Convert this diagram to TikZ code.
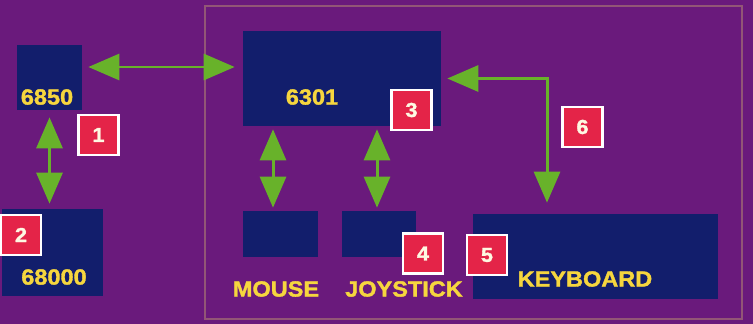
\documentclass[tikz,border=0pt]{standalone}
\usepackage{fontspec}
\setmainfont{Liberation Sans}[BoldFeatures={FakeBold=1.6,FakeStretch=1.07}]
\usetikzlibrary{arrows.meta}
\definecolor{bgpurple}{RGB}{106,26,124}
\definecolor{chipblue}{RGB}{18,30,108}
\definecolor{linkgreen}{RGB}{104,178,42}
\definecolor{tagyellow}{RGB}{246,214,62}
\definecolor{badgered}{RGB}{228,36,72}
\definecolor{framecol}{RGB}{146,86,118}
\begin{document}
\begin{tikzpicture}[x=0.02cm, y=-0.02cm,
		chip/.style={fill=chipblue, inner sep=0pt},
		tag/.style={text=tagyellow, font=\fontsize{12.5}{14}\selectfont\bfseries, inner sep=0pt},
		badge/.style={draw=white, line width=1.3pt, fill=badgered, text=white!85!tagyellow, minimum size=0.8cm, inner sep=0pt, font=\fontsize{11.5}{14}\selectfont\bfseries},
		link/.style={draw=linkgreen, line width=1.7pt, {Triangle[width=0.52cm,length=0.62cm]}-{Triangle[width=0.52cm,length=0.62cm]}}]
		\fill[bgpurple] (0,0) rectangle (753,324);
		\useasboundingbox (0,0) rectangle (753,324);
		\draw[framecol, line width=0.6pt] (205,6) rectangle (742,319);

		\node[chip, minimum width=1.3cm, minimum height=1.3cm] (n6850) at (49.5,77.5) {};
		\node[chip, minimum width=2.02cm, minimum height=1.74cm] (n68000) at (52.5,252.5) {};
		\node[chip, minimum width=3.96cm, minimum height=1.9cm] (n6301) at (342,78.5) {};
		\node[chip, minimum width=1.5cm, minimum height=0.92cm] (nmouse) at (280.5,234) {};
		\node[chip, minimum width=1.48cm, minimum height=0.92cm] (nstick) at (379,234) {};
		\node[chip, minimum width=4.9cm, minimum height=1.7cm] (nkbd) at (595.5,256.5) {};

		\node[tag] (t6850) at (47,97) {6850};
		\node[tag] (t68000) at (54,277) {68000};
		\node[tag] (t6301) at (312,97) {6301};
		\node[tag] (tmouse) at (276,289) {MOUSE};
		\node[tag] (tstick) at (404,289) {JOYSTICK};
		\node[tag] (tkbd) at (585,279) {KEYBOARD};

		\draw[link, shorten <=0.12cm, shorten >=0.16cm] ([yshift=0.21cm]n6850.east) -- ([yshift=0.21cm]n6850.east -| n6301.west);
		\draw[link, shorten <=0.14cm, shorten >=0.1cm] (n6850.south) -- (n6850.south |- n68000.north);
		\draw[link, shorten <=0.06cm, shorten >=0.06cm] ([xshift=-0.15cm]nmouse.north |- n6301.south) -- ([xshift=-0.15cm]nmouse.north);
		\draw[link, shorten <=0.06cm, shorten >=0.06cm] ([xshift=-0.04cm]nstick.north |- n6301.south) -- ([xshift=-0.04cm]nstick.north);
		\draw[link, shorten <=0.12cm, shorten >=0.22cm] (n6301.east) -| ([xshift=-0.97cm]nkbd.north);

		\node[badge] (b1) at (98.5,135) {1};
		\node[badge] (b2) at (21,235) {2};
		\node[badge] (b3) at (411.5,110) {3};
		\node[badge] (b4) at (423,253.5) {4};
		\node[badge] (b5) at (487,255) {5};
		\node[badge] (b6) at (582.5,127) {6};
	\end{tikzpicture}
\end{document}
